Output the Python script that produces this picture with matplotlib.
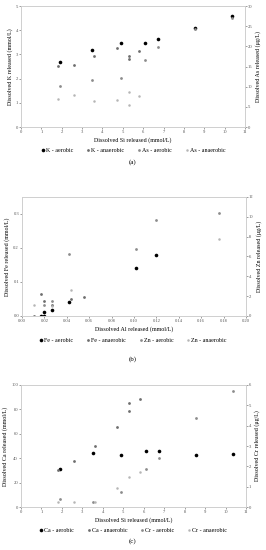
import matplotlib
matplotlib.use("Agg")
import matplotlib.pyplot as plt

plt.rcParams['font.family'] = ['Liberation Serif', 'DejaVu Serif']

# panel (a): K and As vs Si
si_aer = [1.9, 3.5, 4.9, 6.1, 6.75, 8.55, 10.35]
si_ana = [1.8, 2.6, 3.6, 4.7, 5.3, 5.3, 5.8]
k_aer = [2.68, 3.17, 3.46, 3.46, 3.63, 4.08, 4.6]
k_ana = [2.53, 2.57, 2.95, 3.28, 2.95, 2.82, 3.15]
as_aer = [10.2, 11.6, 12.1, 16.6, 19.8, 24.4, 27.0]
as_ana = [7.0, 8.0, 6.4, 6.8, 8.6, 5.5, 7.6]

# panel (b): Fe and Zn vs Al
al_fe_aer = [0.017, 0.020, 0.020, 0.027, 0.042, 0.102, 0.120]
fe_aer = [0.0, 0.0, 0.012, 0.019, 0.040, 0.141, 0.178]
al_fe_ana = [0.011, 0.017, 0.020, 0.027, 0.044, 0.055]
fe_ana = [0.0, 0.064, 0.043, 0.031, 0.051, 0.056]
al_zn_aer = [0.020, 0.027, 0.042, 0.102, 0.120, 0.176]
zn_aer = [1.1, 1.5, 6.2, 6.7, 9.7, 10.4]
al_zn_ana = [0.011, 0.027, 0.044, 0.176]
zn_ana = [1.15, 1.0, 2.6, 7.8]

# panel (c): Ca and Cr vs Si
ca_aer = [31.3, 44.0, 42.4, 45.6, 45.6, 43.0, 43.5]
ca_ana = [30.7, 37.8, 50.3, 66.0, 85.0, 79.0, 88.6]
cr_aer = [0.39, 0.26, 0.75, 1.87, 2.4, 4.39, 5.69]
si_cr_ana = [1.8, 2.6, 3.6, 4.7, 5.3, 5.8]
cr_ana = [0.26, 0.23, 0.24, 0.93, 1.48, 1.71]

c1, c2, c3, c4 = '#000000', '#6e6e6e', '#8c8c8c', '#b5b5b5'
spine_col = '#cfcfcf'
fs_tick = 3.3
fs_lab = 4.3


def style(ax):
    for s in ax.spines.values():
        s.set_color(spine_col)
        s.set_linewidth(0.6)
    ax.tick_params(labelsize=fs_tick, length=1.2, width=0.4, pad=1, colors='#555555')


def panel(rect, xs, ys, labels, xlim, xticks, ylim, yticks, ylim2, yticks2,
          xlab, ylab, ylab2, tag, tag_y, leg_y):
    ax = fig.add_axes(rect)
    ax2 = ax.twinx()
    cols = [c1, c2, c3, c4]
    sizes = [2.6, 2.0, 2.0, 1.8]
    handles = []
    for i in range(4):
        target = ax if i < 2 else ax2
        h, = target.plot(xs[i], ys[i], 'o', ms=sizes[i], color=cols[i],
                         markeredgewidth=0, label=labels[i])
        handles.append(h)
    ax.set_xlim(*xlim)
    ax.set_xticks(xticks)
    ax.set_ylim(*ylim)
    ax.set_yticks(yticks)
    ax2.set_ylim(*ylim2)
    ax2.set_yticks(yticks2)
    style(ax)
    style(ax2)
    ax.set_xlabel(xlab, fontsize=fs_lab, labelpad=2)
    ax.set_ylabel(ylab, fontsize=fs_lab, labelpad=2)
    ax2.set_ylabel(ylab2, fontsize=fs_lab, labelpad=2)
    fig.legend(handles=handles, loc='center', bbox_to_anchor=(0.5, leg_y),
               ncol=4, frameon=False, fontsize=fs_lab, handlelength=0.6,
               handletextpad=0.2, columnspacing=2.2, markerscale=1.0)
    fig.text(0.5, tag_y, tag, ha='center', va='center', fontsize=5)
    return ax


fig = plt.figure(figsize=(2.66, 5.5), dpi=100)

panel([0.079, 0.769, 0.842, 0.22],
      [si_aer, si_ana, si_aer, si_ana], [k_aer, k_ana, as_aer, as_ana],
      ['K - aerobic', 'K - anaerobic', 'As - aerobic', 'As - anaerobic'],
      (0, 11), range(0, 12), (0, 5), range(0, 6), (0, 30), range(0, 31, 5),
      'Dissolved Si released (mmol/L)', 'Dissolved K released (mmol/L)',
      'Dissolved As released (\u03bcg/L)', '(a)', 1 - 162 / 550, 1 - 150 / 550)

panel([0.083, 0.4255, 0.842, 0.2165],
      [al_fe_aer, al_fe_ana, al_zn_aer, al_zn_ana], [fe_aer, fe_ana, zn_aer, zn_ana],
      ['Fe - aerobic', 'Fe - anaerobic', 'Zn - aerobic', 'Zn - anaerobic'],
      (0, 0.2), [0, 0.02, 0.04, 0.06, 0.08, 0.10, 0.12, 0.14, 0.16, 0.18, 0.20],
      (0, 0.35), [0, 0.1, 0.2, 0.3], (0, 12), range(0, 13, 2),
      'Dissolved Al released (mmol/L)', 'Dissolved Fe released (mmol/L)',
      'Dissolved Zn released (\u03bcg/L)', '(b)', 1 - 359 / 550, 1 - 340 / 550)

panel([0.079, 0.078, 0.846, 0.222],
      [si_aer, si_ana, si_aer, si_cr_ana], [ca_aer, ca_ana, cr_aer, cr_ana],
      ['Ca - aerobic', 'Ca - anaerobic', 'Cr - aerobic', 'Cr - anaerobic'],
      (0, 11), range(0, 12), (0, 100), range(0, 101, 20), (0, 6), range(0, 7),
      'Dissolved Si released (mmol/L)', 'Dissolved Ca released (mmol/L)',
      'Dissolved Cr released (\u03bcg/L)', '(c)', 1 - 541 / 550, 1 - 530 / 550)

fig.savefig('out.png', dpi=100)
